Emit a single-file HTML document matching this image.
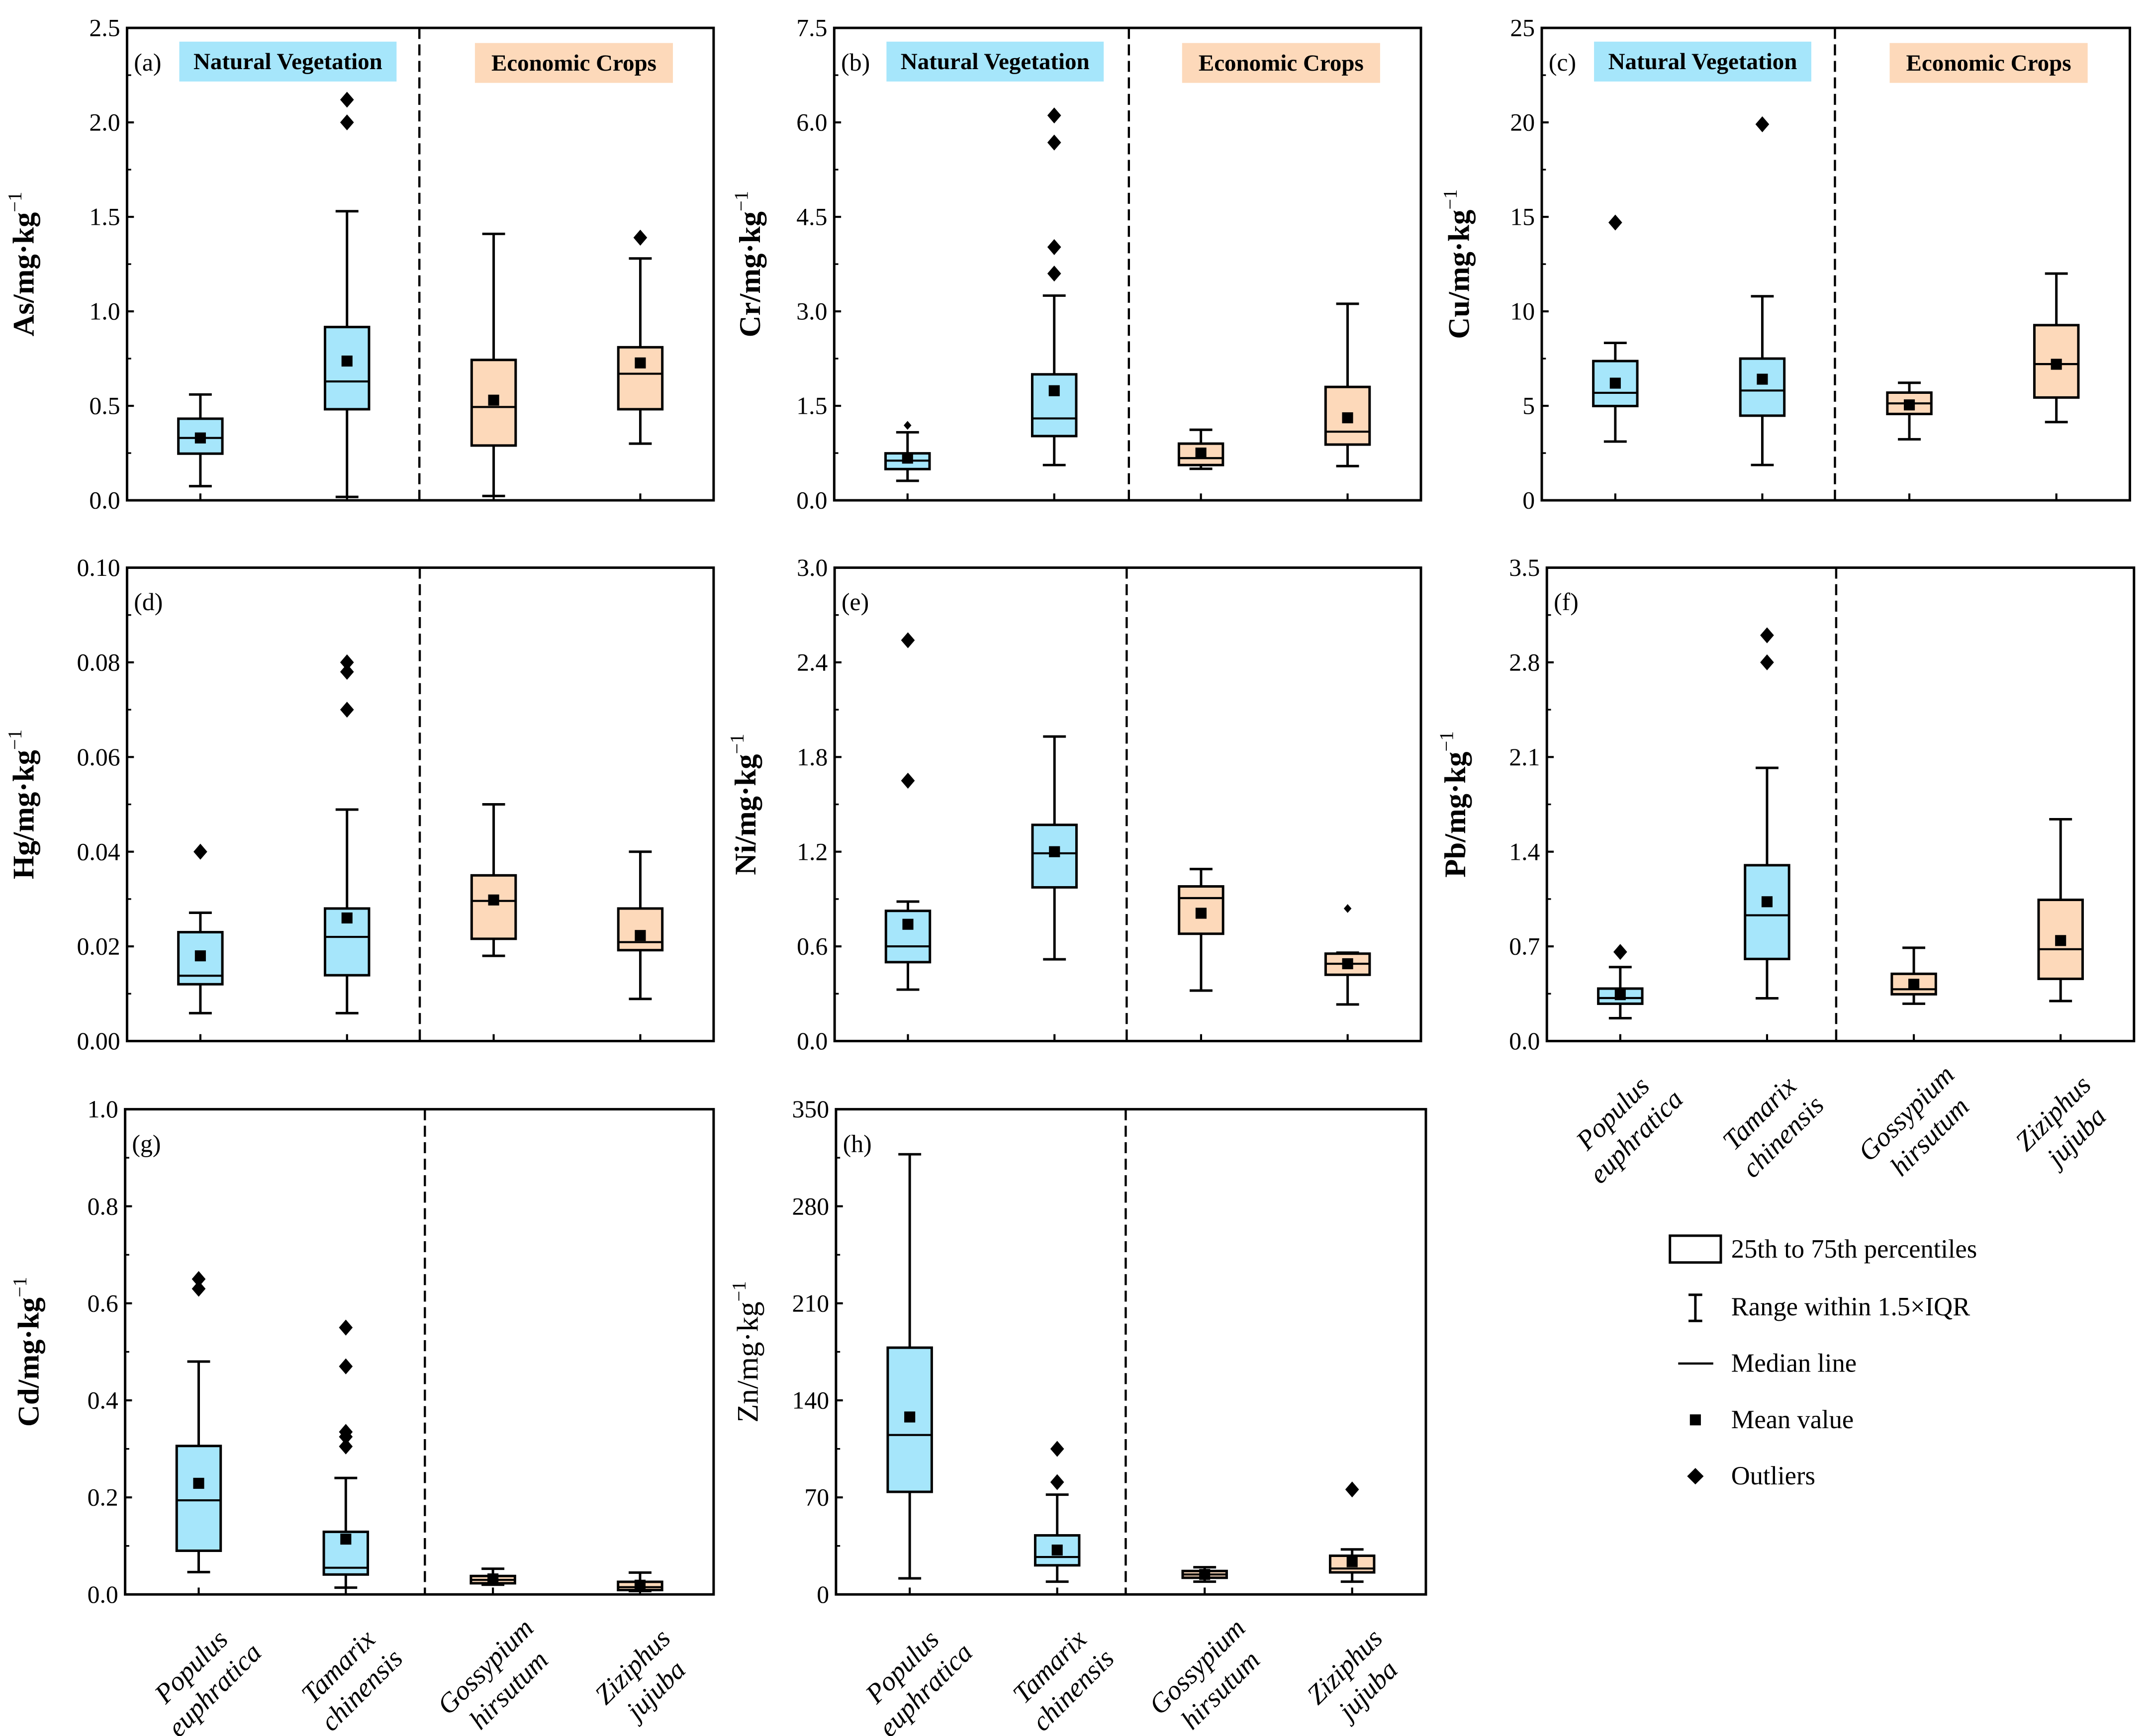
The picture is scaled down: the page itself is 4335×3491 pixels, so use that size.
<!DOCTYPE html>
<html><head><meta charset="utf-8">
<style>
html,body{margin:0;padding:0;background:#fff;}
svg{display:block;}
text{font-family:"Liberation Serif",serif;fill:#000;}
</style></head>
<body>
<svg id="fig" xmlns="http://www.w3.org/2000/svg" width="4335" height="3491" viewBox="0 0 1568 1263" preserveAspectRatio="none">
<rect x="0" y="0" width="1568" height="1263" fill="#fff"/>
</svg>
<script>
// ---- data ----
const categories = ["Populus euphratica","Tamarix chinensis","Gossypium hirsutum","Ziziphus jujuba"];
const catLines = [["Populus","euphratica"],["Tamarix","chinensis"],["Gossypium","hirsutum"],["Ziziphus","jujuba"]];
const panelIds = ["a","b","c","d","e","f","g","h"];
const elements = ["As","Cr","Cu","Hg","Ni","Pb","Cd","Zn"];
const yMax = [2.5,7.5,25,0.10,3.0,3.5,1.0,350];
const yStep = [0.5,1.5,5,0.02,0.6,0.7,0.2,70];
const yDecimals = [1,1,0,2,1,1,1,0];
const whiskerLow = [
 [0.075,0.018,0.023,0.30],[0.31,0.56,0.50,0.544],[3.11,1.87,3.23,4.14],[0.0059,0.0059,0.018,0.0089],
 [0.326,0.518,0.32,0.232],[0.169,0.316,0.276,0.296],[0.046,0.014,0.02,0.007],[11.6,9.2,9.2,9.2]];
const q1 = [
 [0.247,0.482,0.29,0.482],[0.496,1.02,0.56,0.885],[4.99,4.48,4.57,5.44],[0.012,0.0139,0.0216,0.0192],
 [0.50,0.974,0.68,0.42],[0.276,0.607,0.346,0.46],[0.09,0.041,0.023,0.009],[74,21,12,15.9]];
const median = [
 [0.33,0.629,0.494,0.67],[0.63,1.30,0.67,1.09],[5.69,5.81,5.13,7.21],[0.0138,0.022,0.0296,0.0209],
 [0.60,1.19,0.906,0.49],[0.318,0.93,0.383,0.679],[0.194,0.055,0.030,0.015],[115,27,14.4,18.7]];
const q3 = [
 [0.432,0.917,0.743,0.81],[0.746,2.0,0.90,1.80],[7.37,7.5,5.70,9.27],[0.023,0.028,0.035,0.028],
 [0.825,1.37,0.98,0.554],[0.388,1.30,0.497,1.044],[0.306,0.129,0.038,0.026],[178,42.6,16.9,27.9]];
const whiskerHigh = [
 [0.56,1.53,1.41,1.28],[1.08,3.25,1.12,3.12],[8.33,10.8,6.22,12.0],[0.0271,0.0489,0.050,0.040],
 [0.884,1.93,1.09,0.56],[0.547,2.02,0.69,1.64],[0.48,0.24,0.053,0.045],[317.5,72,19.6,32.5]];
const meanVals = [
 [0.33,0.737,0.53,0.727],[0.67,1.74,0.75,1.31],[6.2,6.41,5.05,7.2],[0.018,0.026,0.0298,0.0223],
 [0.74,1.20,0.81,0.49],[0.343,1.03,0.42,0.743],[0.229,0.114,0.032,0.019],[128,32,14.4,23.6]];
const outliers = [
 [[],[2.12,2.0],[],[1.39]],[[],[6.11,5.68,4.02,3.60],[],[]],[[14.7],[19.9],[],[]],[[0.04],[0.08,0.078,0.07],[],[]],
 [[2.54,1.65],[],[],[]],[[0.659],[3.0,2.8],[],[]],[[0.65,0.63],[0.55,0.47,0.335,0.325,0.305],[],[]],[[],[105,81],[],[75.7]]];
const smallOutliers = [
 [[],[],[],[]],[[1.19],[],[],[]],[[],[],[],[]],[[],[],[],[]],
 [[],[],[],[0.84]],[[],[],[],[]],[[],[],[],[]],[[],[],[],[]]];

// ---- layout (not data) ----
const frames = [
 {L:92.4,R:519,T:20.3,B:364,dash:305,tx:68,bold:true,band:true},
 {L:606.7,R:1033.4,T:20.3,B:364,dash:821,tx:54,bold:true,band:true},
 {L:1121.3,R:1549,T:20.3,B:364,dash:1334.5,tx:53,bold:true,band:true},
 {L:92.4,R:519,T:413,B:757.4,dash:305.3,tx:68,bold:true},
 {L:607,R:1033.4,T:413,B:757.4,dash:819.4,tx:57.5,bold:true},
 {L:1125,R:1552,T:413,B:757.4,dash:1335.4,tx:59.5,bold:true,xlab:true},
 {L:91,R:519,T:807,B:1160,dash:309,tx:63,bold:true,xlab:true},
 {L:608,R:1037,T:807,B:1160,dash:818.7,tx:57,bold:false,xlab:true}];
const BLUE="#A6E6FB", ORANGE="#FDD9BA";
const NS="http://www.w3.org/2000/svg";
const svg=document.getElementById('fig');
function mk(tag,attrs,parent){const e=document.createElementNS(NS,tag);for(const k in attrs)e.setAttribute(k,attrs[k]);(parent||svg).appendChild(e);return e;}

panelIds.forEach((pid,p)=>{
  const f=frames[p];
  const g=mk('g',{});
  
  
  const W=f.R-f.L;
  const xs=i=>f.L+W*(i+0.5)/4;
  const ys=v=>f.B-(v/yMax[p])*(f.B-f.T);
  const bw=16, cw=8.3;
  if(f.band){
    const b1=mk('rect',{x:f.L+38,y:f.T+10,width:158,height:29,fill:BLUE},g);
    
    
    const t1=mk('text',{x:f.L+117,y:f.T+30,'text-anchor':'middle','font-size':17,'font-weight':'bold'},g);
    t1.textContent='Natural Vegetation';
    
    
    const b2=mk('rect',{x:f.L+253,y:f.T+11,width:144,height:29,fill:ORANGE},g);
    
    
    const t2=mk('text',{x:f.L+325,y:f.T+31,'text-anchor':'middle','font-size':17,'font-weight':'bold'},g);
    t2.textContent='Economic Crops';
    
    
  }
  const pl=mk('text',{x:f.L+5,y:f.T+31,'font-size':18},g);
  pl.textContent='('+pid+')';
  
  
  const dl=mk('line',{x1:f.dash,x2:f.dash,y1:f.T,y2:f.B,stroke:'#000','stroke-width':1.6,'stroke-dasharray':'8,4'},g);
  
  
  const nT=Math.round(yMax[p]/yStep[p]);
  for(let k=0;k<=nT;k++){
    const v=k*yStep[p], y=ys(v);
    const tl=mk('text',{x:f.L-5,y:y+6,'text-anchor':'end','font-size':18},g);
    tl.textContent=v.toFixed(yDecimals[p]);
    
    
    mk('line',{x1:f.L,x2:f.L+5,y1:y,y2:y,stroke:'#000','stroke-width':1.5},g);
    if(k<nT){const ym=ys(v+yStep[p]/2);mk('line',{x1:f.L,x2:f.L+3,y1:ym,y2:ym,stroke:'#000','stroke-width':1.2},g);}
  }
  const tx=f.L-f.tx, ty=(f.T+f.B)/2;
  const yt=mk('text',{x:tx,y:ty,'text-anchor':'middle','font-size':22,'font-weight':f.bold?'bold':'normal',transform:'rotate(-90 '+tx+' '+ty+')'},g);
  
  
  yt.appendChild(document.createTextNode(elements[p]+'/mg·kg'));
  const sup=mk('tspan',{dy:-9,'font-size':14,'font-weight':'normal'},yt);
  sup.textContent='−1';
  for(let i=0;i<4;i++){
    const x=xs(i), fill=i<2?BLUE:ORANGE;
    const bg=mk('g',{},g);
    
    
    mk('line',{x1:x,x2:x,y1:ys(whiskerHigh[p][i]),y2:ys(q3[p][i]),stroke:'#000','stroke-width':1.8},bg);
    mk('line',{x1:x,x2:x,y1:ys(q1[p][i]),y2:ys(whiskerLow[p][i]),stroke:'#000','stroke-width':1.8},bg);
    mk('line',{x1:x-cw,x2:x+cw,y1:ys(whiskerHigh[p][i]),y2:ys(whiskerHigh[p][i]),stroke:'#000','stroke-width':1.8},bg);
    mk('line',{x1:x-cw,x2:x+cw,y1:ys(whiskerLow[p][i]),y2:ys(whiskerLow[p][i]),stroke:'#000','stroke-width':1.8},bg);
    const yq3=ys(q3[p][i]), yq1=ys(q1[p][i]);
    mk('rect',{x:x-bw,y:yq3,width:2*bw,height:Math.max(0.5,yq1-yq3),fill:fill,stroke:'#000','stroke-width':1.8},bg);
    mk('line',{x1:x-bw,x2:x+bw,y1:ys(median[p][i]),y2:ys(median[p][i]),stroke:'#000','stroke-width':1.5},bg);
    const ym=ys(meanVals[p][i]);
    const mm=mk('rect',{x:x-4,y:ym-4,width:8,height:8,fill:'#000'},bg);
    
    
    outliers[p][i].forEach(v=>{const yo=ys(v);
      const d=mk('path',{d:'M'+x+' '+(yo-5.8)+' L'+(x+5)+' '+yo+' L'+x+' '+(yo+5.8)+' L'+(x-5)+' '+yo+' Z',fill:'#000'},bg);
      
      });
    smallOutliers[p][i].forEach(v=>{const yo=ys(v);
      const d=mk('path',{d:'M'+x+' '+(yo-3.2)+' L'+(x+2.8)+' '+yo+' L'+x+' '+(yo+3.2)+' L'+(x-2.8)+' '+yo+' Z',fill:'#000'},bg);
      
      });
    mk('line',{x1:x,x2:x,y1:f.B,y2:f.B-5,stroke:'#000','stroke-width':1.5},g);
    if(f.xlab){
      const cx=x+2, cy=f.B+60;
      const xl=mk('text',{x:cx,y:cy,'text-anchor':'middle','font-size':20,'font-style':'italic',transform:'rotate(-45 '+cx+' '+cy+')'},g);
      
      
      const a=mk('tspan',{x:cx,dy:-4},xl); a.textContent=catLines[i][0];
      const b=mk('tspan',{x:cx,dy:24},xl); b.textContent=catLines[i][1];
    }
  }
  const fr=mk('rect',{x:f.L,y:f.T,width:W,height:f.B-f.T,fill:'none',stroke:'#000','stroke-width':1.8},g);
  
  
});

const lg=mk('g',{});


const legendLabels=["25th to 75th percentiles","Range within 1.5×IQR","Median line","Mean value","Outliers"];
const legendY=[909,951,992,1033,1074];
mk('rect',{x:1214.5,y:899,width:37,height:19.5,fill:'none',stroke:'#000','stroke-width':1.8},lg);
mk('line',{x1:1233,x2:1233,y1:942,y2:961,stroke:'#000','stroke-width':1.8},lg);
mk('line',{x1:1228,x2:1238,y1:942,y2:942,stroke:'#000','stroke-width':1.8},lg);
mk('line',{x1:1228,x2:1238,y1:961,y2:961,stroke:'#000','stroke-width':1.8},lg);
mk('line',{x1:1220.5,x2:1246,y1:992,y2:992,stroke:'#000','stroke-width':1.6},lg);
mk('rect',{x:1229,y:1029,width:8,height:8,fill:'#000'},lg);
mk('path',{d:'M1233 1068 L1239 1074 L1233 1080 L1227 1074 Z',fill:'#000'},lg);
legendLabels.forEach((t,i)=>{
  const e=mk('text',{x:1259,y:legendY[i]+6,'font-size':19},lg);
  e.textContent=t;
  
  
});
</script>
</body></html>
